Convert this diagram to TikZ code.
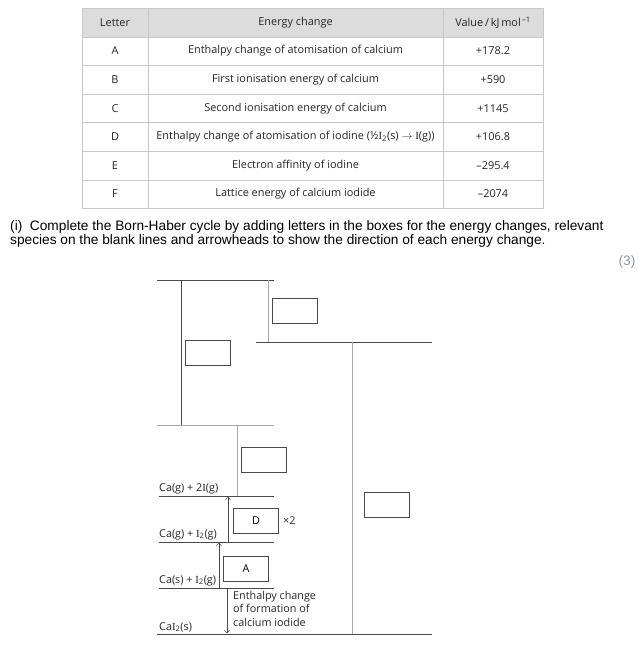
\documentclass[tikz,border=0pt]{standalone}
\usepackage{fontspec}
\setmainfont{Open Sans}
\newfontfamily\qfont{Liberation Sans}
\newfontfamily\elfont{Liberation Serif}
\usetikzlibrary{arrows.meta}
\definecolor{rulegrey}{HTML}{C8C8C8}
\definecolor{headgrey}{HTML}{DCDCDC}
\definecolor{levdark}{HTML}{4A4A4A}
\definecolor{levlight}{HTML}{A8A8A8}
\definecolor{markgrey}{HTML}{8C99AA}
\newcommand{\Iel}{{\elfont I}}
\newcommand{\sub}[1]{\textsubscript{#1}}

\tikzset{
  cell/.style={font=\fontsize{10.9}{12}\selectfont, inner sep=0pt, text=black!85},
  lab/.style={font=\fontsize{10.8}{13}\selectfont, inner sep=0pt, text=black!85},
  ansbox/.style={draw=levdark, line width=0.6pt, minimum width=45pt, minimum height=25pt,
                 inner sep=0pt, font=\fontsize{10.8}{13}\selectfont},
  lev/.style={levdark, line width=0.7pt},
  levlt/.style={levlight, line width=0.9pt},
  arr/.style={levdark, line width=0.5pt, -{Straight Barb[length=3pt,width=5pt]}}
}

\begin{document}
\begin{tikzpicture}[x=1pt,y=-1pt,line cap=butt]
\useasboundingbox (0,0) rectangle (637,647);

% data table
\fill[headgrey] (82,8) rectangle (543,37);
\foreach \yy in {37,65,94,122,151,180}
  \draw[rulegrey,line width=0.8pt] (82,\yy) -- (543,\yy);
\draw[rulegrey,line width=0.8pt] (82,8) rectangle (543,208);
\draw[rulegrey,line width=0.8pt] (148,8) -- (148,208);
\draw[rulegrey,line width=0.8pt] (443,8) -- (443,208);

\node[cell] (hdlet) at (115,22.5) {Letter};
\node[cell] (hdchg) at (295.5,22.5) {Energy change};
\node[cell] (hdval) at (493,22.5) {Value\,/\,kJ\,mol\textsuperscript{\,–1}};

\foreach \l/\txt/\val [count=\i] in {
  A/{Enthalpy change of atomisation of calcium}/+178.2,
  B/{First ionisation energy of calcium}/+590,
  C/{Second ionisation energy of calcium}/+1145,
  D/{Enthalpy change of atomisation of iodine (½\Iel\sub{2}(s) $\rightarrow$ \Iel(g))}/+106.8,
  E/{Electron affinity of iodine}/–295.4,
  F/{Lattice energy of calcium iodide}/–2074}{
  \node[cell] (let\l) at (115,{22.5+28.57*\i}) {\l};
  \node[cell] (chg\l) at (295.5,{22.5+28.57*\i}) {\txt};
  \node[cell] (val\l) at (493,{22.5+28.57*\i}) {\val};
}

% question
\node[anchor=north west, align=left, inner sep=0pt,
      font=\qfont\fontsize{13.7}{14.5}\selectfont] (quest) at (10,220)
  {(i)\ \ Complete the Born-Haber cycle by adding letters in the boxes for the energy changes, relevant\\
   species on the blank lines and arrowheads to show the direction of each energy change.};
\node[inner sep=0pt, text=markgrey, font=\qfont\fontsize{13.7}{14}\selectfont] (marks) at (627,262) {(3)};

% energy levels
\coordinate (t1) at (157,280); \coordinate (t2) at (274,280);
\coordinate (m1) at (256,342); \coordinate (m2) at (432,342);
\coordinate (u1) at (157,425); \coordinate (u2) at (274,425);
\coordinate (g1) at (159,496); \coordinate (g2) at (274,496);
\coordinate (h1) at (159,542); \coordinate (h2) at (274,542);
\coordinate (s1) at (159,588); \coordinate (s2) at (274,588);
\coordinate (b1) at (157,634); \coordinate (b2) at (432,634);
\draw[lev] (t1) -- (t2);
\draw[lev] (m1) -- (m2);
\draw[levlt] (u1) -- (u2);
\draw[lev] (g1) -- (g2);
\draw[lev] (h1) -- (h2);
\draw[lev] (s1) -- (s2);
\draw[lev] (b1) -- (b2);

% species on the levels
\node[lab, anchor=base west] (spg) at (159,491) {Ca(g) + 2\Iel(g)};
\node[lab, anchor=base west] (sph) at (159,537) {Ca(g) + \Iel\sub{2}(g)};
\node[lab, anchor=base west] (sps) at (159,583) {Ca(s) + \Iel\sub{2}(g)};
\node[lab, anchor=base west] (spb) at (159,630) {Ca\Iel\sub{2}(s)};

% energy changes
\draw[lev] (181,280) -- (181,425);
\draw[levlt] (268,280) -- (268,342);
\draw[levlt] (352,342) -- (352,634);
\draw[levlt] (237,425) -- (237,496);
\draw[arr] (228,542) -- (228,496.5);
\draw[arr] (219,588) -- (219,542.5);
\draw[arr] (227,588) -- (227,633.5);

% boxes
\node[ansbox] (bx1) at (207.5,353) {};
\node[ansbox] (bx2) at (294.5,310.5) {};
\node[ansbox] (bx3) at (263.5,459.5) {};
\node[ansbox] (bx4) at (386.5,504.5) {};
\node[ansbox] (bxD) at (256,520.5) {D};
\node[lab, anchor=west] (twice) at (283,521) {×2};
\node[ansbox] (bxA) at (246,569) {A};
\node[lab, anchor=north west, align=left, font=\fontsize{10.8}{13.5}\selectfont] (form) at (233,591)
  {Enthalpy change\\of formation of\\calcium iodide};
\end{tikzpicture}
\end{document}
